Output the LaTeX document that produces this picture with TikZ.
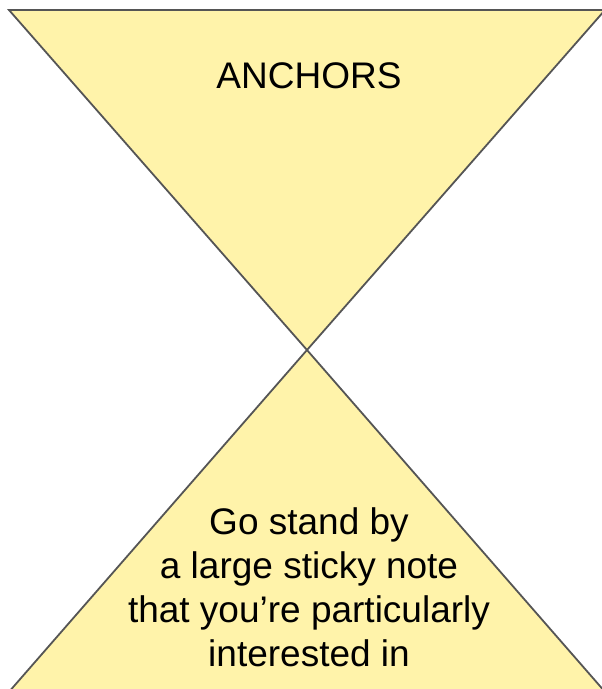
\documentclass[tikz,border=0pt]{standalone}
\usepackage{fontspec}
\setmainfont{Liberation Sans}
\definecolor{stickyfill}{RGB}{255,243,170}
\definecolor{edgegray}{RGB}{85,85,85}
\begin{document}
\begin{tikzpicture}[x=1pt,y=-1pt,
  tri/.style={fill=stickyfill,draw=edgegray,line width=1.8pt,line join=miter},
  lbl/.style={inner sep=0pt,font=\fontsize{37}{44}\selectfont,align=center,text=black}]
\useasboundingbox (0,0) rectangle (602,689);
\clip (0,0) rectangle (602,689);
\coordinate (tl) at (9,10);
\coordinate (tr) at (605,10);
\coordinate (mid) at (307,350);
\coordinate (bl) at (8,693);
\coordinate (br) at (606,693);
\draw[tri] (tl) -- (tr) -- (mid) -- cycle;
\draw[tri] (mid) -- (br) -- (bl) -- cycle;
\node[lbl,anchor=base] (top) at (309,88) {ANCHORS};
\node[lbl,anchor=base] (bottom) at (309,666) {Go stand by\\a large sticky note\\that you’re particularly\\interested in};
\end{tikzpicture}
\end{document}
